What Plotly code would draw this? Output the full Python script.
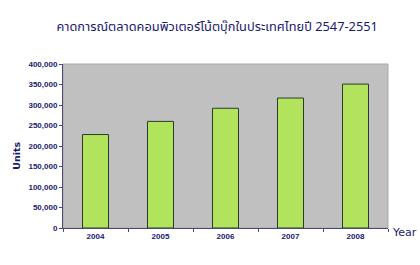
import plotly.graph_objects as go

years = ["2004", "2005", "2006", "2007", "2008"]
units = [228000, 260000, 292000, 317000, 351000]
y_ticks = [0, 50000, 100000, 150000, 200000, 250000, 300000, 350000, 400000]
y_tick_labels = ["0", "50,000", "100,000", "150,000", "200,000", "250,000", "300,000", "350,000", "400,000"]
title_text = "คาดการณ์ตลาดคอมพิวเตอร์โน้ตบุ๊กในประเทศไทยปี 2547-2551"

navy = "#1a1a6e"
fam = "'Liberation Sans', Arial, sans-serif"

fig = go.Figure(go.Bar(
    x=years, y=units,
    marker=dict(color="#b2e35c", line=dict(color="#2b3b2b", width=1)),
    width=0.4,
))

fig.update_layout(
    width=420, height=265,
    margin=dict(l=63, r=32, t=64, b=37),
    paper_bgcolor="white",
    plot_bgcolor="#c0c0c0",
    showlegend=False,
    title=dict(text=title_text, x=0.517, xanchor="center", y=0.9, yanchor="middle",
               font=dict(family="Tahoma, 'Noto Sans Thai', 'Noto Sans', sans-serif", size=12.8, color=navy)),
    annotations=[
        dict(text="Year", xref="paper", yref="paper", x=1.005, y=-0.03, xanchor="left", yanchor="middle",
             showarrow=False, font=dict(family="'DejaVu Sans', sans-serif", size=11, color=navy)),
        dict(text="<b>Units</b>", xref="paper", yref="paper", x=-0.142, y=0.44, xanchor="center", yanchor="middle",
             textangle=-90, showarrow=False, font=dict(family="'DejaVu Sans', sans-serif", size=9.5, color=navy)),
    ],
)

fig.update_xaxes(
    showgrid=False, showline=True, linecolor="#4a4a7a", linewidth=1,
    ticks="outside", ticklen=3, tickcolor="#4a4a7a", tickson="boundaries",
    tickfont=dict(family=fam, size=8, color=navy, weight="bold"),
    mirror=False,
)
fig.update_yaxes(
    range=[0, 400000], tickvals=y_ticks, ticktext=y_tick_labels,
    showgrid=False, showline=True, linecolor="#4a4a7a", linewidth=1,
    ticks="outside", ticklen=3, tickcolor="#4a4a7a",
    tickfont=dict(family=fam, size=8, color=navy, weight="bold"),
    zeroline=False,
)

fig.add_shape(type="rect", xref="paper", yref="paper", x0=0, y0=0, x1=1, y1=1,
              line=dict(color="#a8a8a8", width=1), layer="below")

fig.write_html("out.html")
